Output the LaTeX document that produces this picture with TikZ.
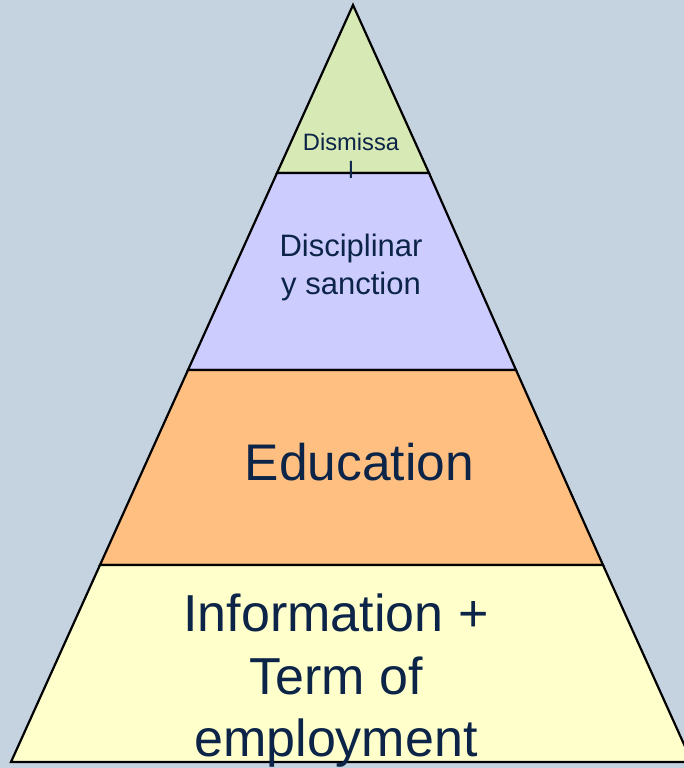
\documentclass[tikz,border=0pt]{standalone}
\usepackage{fontspec}
\setmainfont{Liberation Sans}
\definecolor{bgc}{RGB}{197,211,224}
\definecolor{lgreen}{RGB}{215,233,180}
\definecolor{lav}{RGB}{204,204,255}
\definecolor{org}{RGB}{255,191,128}
\definecolor{ylw}{RGB}{255,255,204}
\definecolor{txt}{RGB}{12,36,72}
\tikzset{
  layer/.style={draw=black, line width=2.2pt, line join=miter},
  lbl/.style={text=txt, align=center, inner sep=0pt, anchor=base}
}
\begin{document}
\begin{tikzpicture}[x=1pt,y=-1pt]
\useasboundingbox (0,0) rectangle (684,768);
\fill[bgc] (0,0) rectangle (684,768);
\begin{scope}
\clip (0,0) rectangle (684,768);
\path[layer, fill=lgreen] (353,5) -- (429,173) -- (277,173) -- cycle;
\path[layer, fill=lav] (277,173) -- (429,173) -- (516,370) -- (188,370) -- cycle;
\path[layer, fill=org] (188,370) -- (516,370) -- (603,565) -- (100,565) -- cycle;
\path[layer, fill=ylw] (100,565) -- (603,565) -- (692,762) -- (11,762) -- cycle;
\node[lbl, font=\fontsize{23.7}{28}\selectfont] (dis) at (351,178) {Dismissa\\l};
\node[lbl, font=\fontsize{31}{37.5}\selectfont] (sanc) at (351,294) {Disciplinar\\y sanction};
\node[lbl, font=\fontsize{51.5}{62}\selectfont] (edu) at (359.5,480) {Education};
\node[lbl, font=\fontsize{52}{62.5}\selectfont] (info) at (336,756.7) {Information +\\Term of\\employment};
\end{scope}
\end{tikzpicture}
\end{document}
